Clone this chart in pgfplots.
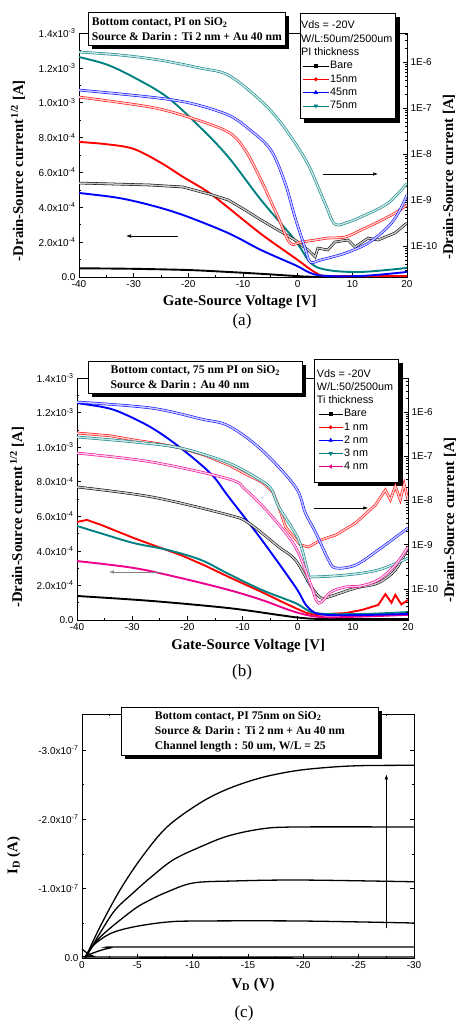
\documentclass[border=0pt]{standalone}
\usepackage{fontspec}
\setmainfont{Liberation Sans}
\newfontfamily\tms{Liberation Serif}
\usepackage{pgfplots}
\pgfplotsset{compat=1.18}
\usetikzlibrary{arrows.meta,shadows,backgrounds}

\definecolor{tealc}{RGB}{0,128,128}

\tikzset{
  tbox/.style={draw=black, line width=0.8pt, fill=white, anchor=north west, inner sep=0pt, align=left,
    font=\tms\bfseries\fontsize{11.7}{15}\selectfont,
    drop shadow={shadow xshift=4pt, shadow yshift=-4pt, fill=black, opacity=1}},
  arr/.style={-{Latex[length=5pt,width=3.5pt]}, line width=0.6pt},
}
\pgfplotsset{
  pnl/.style={scale only axis, tick align=inside, scaled ticks=false, minor tick num=1,
    tick label style={font=\fontsize{10}{12}\selectfont},
    label style={font=\tms\bfseries\fontsize{14.8}{17}\selectfont},
    axis line style={line width=0.8pt}, tick style={black, line width=0.7pt},
    major tick length=4pt, minor tick length=2.2pt},
  ln/.style={draw=#1, line width=1.9pt, smooth, tension=0.55},
  lg/.style={draw=#1, line width=0.55pt, double=#1!22!white, double distance=1.5pt, smooth, tension=0.55},
  linax/.style={pnl, xtick pos=bottom, ytick pos=left, ymin=0, ymax=1.4e-3,
    ytick={0,2e-4,4e-4,6e-4,8e-4,1e-3,1.2e-3,1.4e-3},
    yticklabels={0.0,2.0x10\textsuperscript{-4},4.0x10\textsuperscript{-4},6.0x10\textsuperscript{-4},
      8.0x10\textsuperscript{-4},1.0x10\textsuperscript{-3},1.2x10\textsuperscript{-3},1.4x10\textsuperscript{-3}},
    xmin=-40, xmax=20, xtick={-40,-30,...,20}, xticklabels={-40,-30,-20,-10,0,10,20},
    xlabel={Gate-Source Voltage [V]},
    ylabel={-Drain-Source current\textsuperscript{\,1/2} [A]}},
}

\begin{document}
\begin{tikzpicture}
\useasboundingbox (0,0) rectangle (456pt,-1026pt);

% ---------------- (a) sqrt axis
\begin{axis}[linax, at={(79pt,-277pt)}, anchor=south west, width=328pt, height=244pt,
  xlabel style={at={(axis description cs:0.49,-0.102)}, anchor=center},
  ylabel style={at={(axis description cs:-0.186,0.436)}, anchor=center}]
\addplot[ln=black] coordinates {(-40,5.0e-5) (-30,4.7e-5) (-20,4.0e-5) (-12.7,2.9e-5) (-6,1.7e-5) (-1,7e-6) (3,1e-6) (10,1e-6) (20,2e-6)};
\addplot[ln=red] coordinates {(-40,7.75e-4) (-35,7.62e-4) (-30,7.35e-4) (-25,6.55e-4) (-21,5.75e-4) (-16.5,4.9e-4) (-12.7,3.98e-4) (-6.7,2.47e-4) (-0.5,1.09e-4) (3.4,2.3e-5) (6,6e-6) (20,6e-6)};
\addplot[ln=blue] coordinates {(-40,4.82e-4) (-33,4.55e-4) (-27,4.13e-4) (-21,3.56e-4) (-12.7,2.52e-4) (-6.7,1.55e-4) (-0.5,6.9e-5) (3.7,1.1e-5) (11.6,6e-6) (20,2.9e-5)};
\addplot[ln=tealc] coordinates {(-40,1.262e-3) (-35,1.22e-3) (-30.1,1.148e-3) (-23.9,1.033e-3) (-17.9,8.61e-4) (-12.7,6.89e-4) (-6.7,4.42e-4) (-0.5,2.12e-4) (2.4,8.0e-5) (5.5,4.0e-5) (11.6,2.9e-5) (20,5.2e-5)};
\draw[arr] (axis cs:-21.9,2.35e-4) -- (axis cs:-31.4,2.35e-4);
\draw[arr] (axis cs:4.6,5.91e-4) -- (axis cs:14.7,5.91e-4);
\end{axis}

% ---------------- (a) log axis
\begin{axis}[ymode=log, pnl, at={(79pt,-277pt)}, anchor=south west, width=328pt, height=244pt,
  xmin=-40, xmax=20, ymin=2.12e-11, ymax=4.27e-6,
  axis x line=none, axis y line*=right, axis line style={-, line width=0.8pt}, minor y tick num=0,
  ytick={1e-10,1e-9,1e-8,1e-7,1e-6}, yticklabels={1E-10,1E-9,1E-8,1E-7,1E-6},
  minor ytick={3e-11,4e-11,5e-11,6e-11,7e-11,8e-11,9e-11,2e-10,3e-10,4e-10,5e-10,6e-10,7e-10,8e-10,9e-10,
    2e-9,3e-9,4e-9,5e-9,6e-9,7e-9,8e-9,9e-9,2e-8,3e-8,4e-8,5e-8,6e-8,7e-8,8e-8,9e-8,
    2e-7,3e-7,4e-7,5e-7,6e-7,7e-7,8e-7,9e-7,2e-6,3e-6,4e-6},
  ylabel={-Drain-Source current [A]},
  ylabel style={at={(axis description cs:1.128,0.41)}, anchor=center},
  legend cell align=left,
  legend image code/.code={\draw[mark repeat=2,mark phase=2] plot coordinates {(0pt,0pt) (13pt,0pt) (26pt,0pt)};},
  legend style={name=legA, at={(0.674,1.082)}, anchor=north west, draw=black, fill=white, line width=0.8pt,
    font=\fontsize{10.8}{12}\selectfont, inner xsep=2pt, inner ysep=6pt, row sep=0pt,
    nodes={inner sep=1pt, text height=8.5pt, text depth=2.8pt}}]
\addlegendimage{empty legend}\addlegendentry{\hspace*{-29pt}Vds = -20V}
\addlegendimage{empty legend}\addlegendentry{\hspace*{-29pt}W/L:50um/2500um}
\addlegendimage{empty legend}\addlegendentry{\hspace*{-29pt}PI thickness}
\addlegendimage{black, line width=0.6pt, mark=square*, mark size=1.5pt}\addlegendentry{Bare}
\addlegendimage{red, line width=0.6pt, mark=*, mark size=1.6pt}\addlegendentry{15nm}
\addlegendimage{blue, line width=0.6pt, mark=triangle*, mark size=2pt}\addlegendentry{45nm}
\addlegendimage{tealc, line width=0.6pt, mark=triangle*, mark options={rotate=180}, mark size=2pt}\addlegendentry{75nm}
\addplot[lg=black, sharp plot, forget plot] coordinates {(-40,2.34e-9) (-27,2.12e-9) (-21,1.92e-9) (-15.5,1.28e-9) (-12.7,1.0e-9) (-9.6,6.06e-10) (-6.7,3.67e-10) (-3.6,2.23e-10) (-0.5,1.35e-10) (1.9,8.2e-11) (3.2,5.8e-11) (3.7,9.0e-11) (5.5,8.2e-11) (6.8,1.22e-10) (9.2,1.35e-10) (10.5,9.5e-11) (12.9,1.49e-10) (14.7,1.35e-10) (17.8,1.92e-10) (20,3.16e-10)};
\addplot[lg=red, forget plot] coordinates {(-40,1.73e-7) (-27,1.05e-7) (-19.7,6.2e-8) (-12.7,3.0e-8) (-9.6,1.22e-8) (-6.7,2.72e-9) (-3.6,4.27e-10) (-1.4,1.16e-10) (0.6,1.22e-10) (3.2,1.35e-10) (5.5,1.49e-10) (8.7,1.57e-10) (11.6,2.23e-10) (14.7,3.33e-10) (17.8,5.2e-10) (20,7.8e-10)};
\addplot[lg=blue, forget plot] coordinates {(-40,2.46e-7) (-27,1.73e-7) (-19.7,1.28e-7) (-12.7,7.05e-8) (-8.7,3.33e-8) (-4.9,1.22e-8) (-2.3,2.34e-9) (-0.5,4.27e-10) (1.3,9.5e-11) (2.3,4.5e-11) (4.3,5.0e-11) (8.7,7.0e-11) (12.9,1.16e-10) (16.5,2.59e-10) (18.4,5.2e-10) (20,1.28e-9)};
\addplot[lg=tealc, forget plot] coordinates {(-40,1.65e-6) (-32.5,1.42e-6) (-25.2,1.1e-6) (-17.9,7.4e-7) (-12.7,5.2e-7) (-6.9,1.5e-7) (-3.2,5.0e-8) (0.4,1.2e-8) (2.4,4.5e-9) (5.0,8.5e-10) (6.8,3.0e-10) (9.2,3.3e-10) (11.6,4.3e-10) (16.5,8.5e-10) (20,2.3e-9)};
\end{axis}
\begin{scope}[on background layer]
\fill[black] ([shift={(4pt,-4pt)}]legA.south west) rectangle ([shift={(4pt,-4pt)}]legA.north east);
\end{scope}

% ---------------- (b) sqrt axis
\begin{axis}[linax, at={(77pt,-620pt)}, anchor=south west, width=331pt, height=242pt,
  xlabel style={at={(axis description cs:0.517,-0.107)}, anchor=center},
  ylabel style={at={(axis description cs:-0.181,0.424)}, anchor=center}]
\addplot[ln=black] coordinates {(-40,1.39e-4) (-26.4,1.1e-4) (-12.5,6.9e-5) (-3.4,2.9e-5) (0.7,1.2e-5) (5,6e-6) (20,6e-6)};
\addplot[ln=red, sharp plot] coordinates {(-40,5.67e-4) (-38.2,5.79e-4) (-35.6,5.5e-4) (-32.5,5.1e-4) (-29.7,4.74e-4) (-25.5,4.25e-4) (-21.2,3.76e-4) (-16.8,3.15e-4) (-12.5,2.49e-4) (-6.5,1.62e-4) (-2.5,1.0e-4) (-0.4,6.9e-5) (1.5,4.2e-5) (3.3,2.9e-5) (5.6,3.5e-5) (8.7,4.0e-5) (11.6,5.8e-5) (14.6,8.7e-5) (15.9,1.5e-4) (17.0,1.0e-4) (17.7,1.45e-4) (18.8,9.0e-5) (20,1.16e-4)};
\addplot[ln=tealc] coordinates {(-40,5.44e-4) (-35,4.95e-4) (-29.7,4.45e-4) (-23.5,4.05e-4) (-17.5,3.47e-4) (-12.5,2.66e-4) (-6.5,1.74e-4) (-0.4,9.8e-5) (3.3,4.0e-5) (11.8,3.5e-5) (20,4.6e-5)};
\addplot[ln=magenta] coordinates {(-40,3.41e-4) (-29.7,3.01e-4) (-21.2,2.43e-4) (-12.5,1.74e-4) (-6.5,1.16e-4) (-0.4,4.6e-5) (4.3,1.7e-5) (11.6,2.0e-5) (20,3.0e-5)};
\addplot[ln=blue] coordinates {(-40,1.255e-3) (-35,1.23e-3) (-31.8,1.197e-3) (-26.4,1.111e-3) (-21.2,9.95e-4) (-15.7,8.45e-4) (-12.5,7.12e-4) (-6.5,4.63e-4) (-0.4,1.91e-4) (2.0,6.9e-5) (5.6,2.9e-5) (20,3.5e-5)};
\draw[arr, gray] (axis cs:-24.8,2.78e-4) -- (axis cs:-34.2,2.78e-4);
\draw[arr] (axis cs:2.9,6.48e-4) -- (axis cs:12.8,6.48e-4);
\end{axis}

% ---------------- (b) log axis
\begin{axis}[ymode=log, pnl, at={(77pt,-620pt)}, anchor=south west, width=331pt, height=242pt,
  xmin=-40, xmax=20, ymin=1.99e-11, ymax=5.86e-6,
  axis x line=none, axis y line*=right, axis line style={-, line width=0.8pt}, minor y tick num=0,
  ytick={1e-10,1e-9,1e-8,1e-7,1e-6}, yticklabels={1E-10,1E-9,1E-8,1E-7,1E-6},
  minor ytick={3e-11,4e-11,5e-11,6e-11,7e-11,8e-11,9e-11,2e-10,3e-10,4e-10,5e-10,6e-10,7e-10,8e-10,9e-10,
    2e-9,3e-9,4e-9,5e-9,6e-9,7e-9,8e-9,9e-9,2e-8,3e-8,4e-8,5e-8,6e-8,7e-8,8e-8,9e-8,
    2e-7,3e-7,4e-7,5e-7,6e-7,7e-7,8e-7,9e-7,2e-6,3e-6,4e-6,5e-6},
  ylabel={-Drain-Source current [A]},
  ylabel style={at={(axis description cs:1.127,0.413)}, anchor=center},
  legend cell align=left,
  legend image code/.code={\draw[mark repeat=2,mark phase=2] plot coordinates {(0pt,0pt) (12pt,0pt) (24pt,0pt)};},
  legend style={name=legB, at={(0.716,1.079)}, anchor=north west, draw=black, fill=white, line width=0.8pt,
    font=\fontsize{10.8}{12}\selectfont, inner xsep=4pt, inner ysep=9pt, row sep=0pt,
    nodes={inner sep=1pt, text height=8.4pt, text depth=2.7pt}}]
\addlegendimage{empty legend}\addlegendentry{\hspace*{-27pt}Vds = -20V}
\addlegendimage{empty legend}\addlegendentry{\hspace*{-27pt}W/L:50/2500um}
\addlegendimage{empty legend}\addlegendentry{\hspace*{-27pt}Ti thickness}
\addlegendimage{black, line width=0.6pt, mark=square*, mark size=1.5pt}\addlegendentry{Bare}
\addlegendimage{red, line width=0.6pt, mark=*, mark size=1.6pt}\addlegendentry{1 nm}
\addlegendimage{blue, line width=0.6pt, mark=triangle*, mark size=2pt}\addlegendentry{2 nm}
\addlegendimage{tealc, line width=0.6pt, mark=triangle*, mark options={rotate=180}, mark size=2pt}\addlegendentry{3 nm}
\addlegendimage{magenta, line width=0.6pt, mark=triangle*, mark options={rotate=90}, mark size=2pt}\addlegendentry{4 nm}
\addplot[lg=black, forget plot] coordinates {(-40,2.02e-8) (-26.4,1.2e-8) (-12.5,4.7e-9) (-8.9,3.1e-9) (-3.4,8.9e-10) (-0.4,4.5e-10) (2.5,1.11e-10) (4.2,6.3e-11) (5.6,6.6e-11) (10.5,1.05e-10) (14.6,1.37e-10) (17.7,2.69e-10) (20,8.45e-10)};
\addplot[lg=red, sharp plot, forget plot] coordinates {(-40,3.35e-7) (-34,2.9e-7) (-29.7,2.33e-7) (-25.5,1.95e-7) (-21.2,1.53e-7) (-16.8,1.05e-7) (-12.5,6.34e-8) (-9.5,4.0e-8) (-6.5,2.62e-8) (-4.5,1.56e-8) (-3.3,6.5e-9) (-2.2,2.52e-9) (0.5,9.9e-10) (2.0,8.9e-10) (4.2,1.28e-9) (6.9,1.66e-9) (10.5,3.1e-9) (14.1,7.9e-9) (15.9,1.73e-8) (16.8,1.03e-8) (17.7,2.1e-8) (18.6,1.03e-8) (19.3,2.36e-8) (20,1.03e-8)};
\addplot[lg=tealc, forget plot] coordinates {(-40,2.72e-7) (-29.7,2.10e-7) (-21.2,1.53e-7) (-12.5,7.03e-8) (-6.5,2.76e-8) (-4.7,1.73e-8) (-3.4,7.1e-9) (0.2,1.28e-9) (2.0,2.07e-10) (2.5,1.87e-10) (8.7,2.07e-10) (14.6,2.69e-10) (20,5.0e-10)};
\addplot[lg=magenta, forget plot] coordinates {(-40,1.18e-7) (-26.4,7.4e-8) (-12.5,3.06e-8) (-9.4,1.73e-8) (-4.9,4.7e-9) (-0.4,8.9e-10) (2.4,1.23e-10) (3.8,4.8e-11) (6.0,8.5e-11) (8.7,1.11e-10) (11.4,1.17e-10) (14.6,1.6e-10) (17.7,3.48e-10) (20,8.9e-10)};
\addplot[lg=blue, forget plot] coordinates {(-40,1.68e-6) (-26.6,1.23e-6) (-17.5,6.95e-7) (-12.5,4.83e-7) (-6.5,1.38e-7) (-0.4,2.02e-8) (1.4,5.2e-9) (3.3,1.85e-9) (5.6,4.52e-10) (6.9,2.98e-10) (10.5,3.48e-10) (14.6,7.6e-10) (20,2.39e-9)};
\end{axis}
\begin{scope}[on background layer]
\fill[black] ([shift={(4pt,-4pt)}]legB.south west) rectangle ([shift={(4pt,-4pt)}]legB.north east);
\end{scope}

% ---------------- (c) output curves
\begin{axis}[pnl, at={(82pt,-958pt)}, anchor=south west, width=332pt, height=244pt,
  x dir=reverse, y dir=reverse, xmin=-30, xmax=0, ymin=-3.52e-7, ymax=0,
  xtick={-30,-25,...,0}, xticklabels={-30,-25,-20,-15,-10,-5,0},
  ytick={-3e-7,-2e-7,-1e-7,0},
  yticklabels={-3.0x10\textsuperscript{-7},-2.0x10\textsuperscript{-7},-1.0x10\textsuperscript{-7},0.0},
  xlabel={V\textsubscript{D} (V)}, ylabel={I\textsubscript{D} (A)},
  xlabel style={at={(axis description cs:0.515,-0.111)}, anchor=center},
  ylabel style={at={(axis description cs:-0.205,0.42)}, anchor=center}]
\addplot[black, line width=1.3pt, smooth, tension=0.55] coordinates {(-0.3,0) (-1.63,-4.5e-8) (-3.43,-9.8e-8) (-5.42,-1.457e-7) (-7.68,-1.89e-7) (-10.66,-2.236e-7) (-13.19,-2.44e-7) (-16.17,-2.6e-7) (-19.25,-2.7e-7) (-22.23,-2.75e-7) (-25.21,-2.775e-7) (-30,-2.78e-7)};
\addplot[black, line width=1.3pt, smooth, tension=0.55] coordinates {(-0.3,0) (-1.63,-3.6e-8) (-2.98,-6.9e-8) (-4.61,-9.38e-8) (-6.14,-1.154e-7) (-8.22,-1.414e-7) (-10.66,-1.601e-7) (-13.19,-1.76e-7) (-16.17,-1.861e-7) (-19.25,-1.89e-7) (-30,-1.89e-7)};
\addplot[black, line width=1.3pt, smooth, tension=0.55] coordinates {(-0.3,0) (-1.63,-3.0e-8) (-4.61,-6.92e-8) (-6.14,-8.37e-8) (-7.68,-9.52e-8) (-10.03,-1.082e-7) (-13.64,-1.111e-7) (-19.7,-1.125e-7) (-30,-1.10e-7)};
\addplot[black, line width=1.3pt, smooth, tension=0.55] coordinates {(-0.3,-2e-9) (-1.0,-1.8e-8) (-2.53,-3.5e-8) (-4.61,-4.47e-8) (-7.68,-5.19e-8) (-10.66,-5.34e-8) (-19.7,-5.34e-8) (-30,-5.05e-8)};
\addplot[black, line width=1.3pt, smooth, tension=0.55] coordinates {(-0.3,-2e-9) (-0.99,-7.2e-9) (-2.53,-1.44e-8) (-4.61,-1.59e-8) (-30,-1.59e-8)};
\addplot[black, line width=1.3pt, smooth, tension=0.55] coordinates {(0,-1.3e-8) (-0.45,-7.2e-9) (-0.99,-2.9e-9) (-1.63,-1.4e-9) (-30,-1.4e-9)};
\draw[arr] (axis cs:-27.5,-4.3e-8) -- (axis cs:-27.5,-2.65e-7);
\end{axis}

% ---------------- text boxes and panel letters
\node[tbox, minimum width=197pt, minimum height=33pt] at (88pt,-12pt)
  {Bottom contact, PI on SiO\textsubscript{2}\\Source \& Darin : Ti 2 nm + Au 40 nm};
\node[tbox, minimum width=214pt, minimum height=32pt] at (88pt,-361pt)
  {Bottom contact, 75 nm PI on SiO\textsubscript{2}\\Source \& Darin : Au 40 nm};
\node[tbox, minimum width=257pt, minimum height=48pt] at (121pt,-707pt)
  {Bottom contact, PI 75nm on SiO\textsubscript{2}\\Source \& Darin : Ti 2 nm + Au 40 nm\\Channel length : 50 um, W/L = 25};
\node[font=\tms\fontsize{17}{17}\selectfont] at (242pt,-321pt) {(a)};
\node[font=\tms\fontsize{17}{17}\selectfont] at (242pt,-672pt) {(b)};
\node[font=\tms\fontsize{17}{17}\selectfont] at (244pt,-1013pt) {(c)};
\end{tikzpicture}
\end{document}
